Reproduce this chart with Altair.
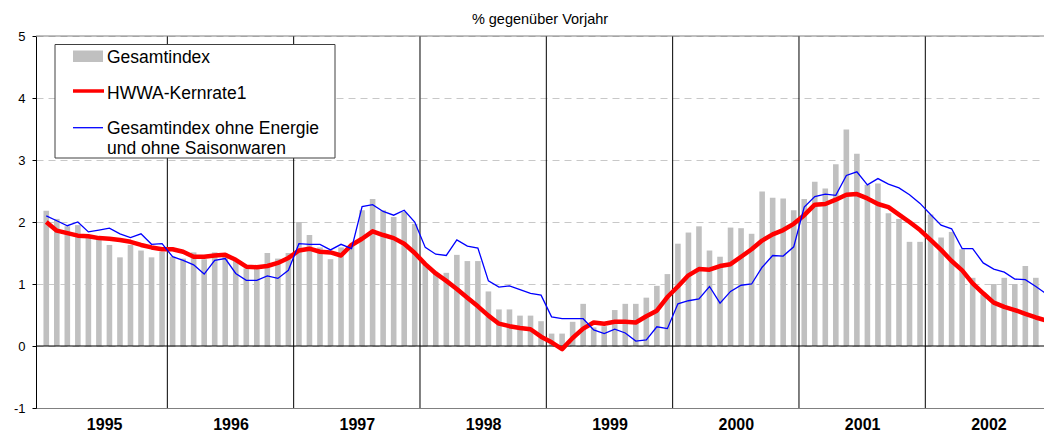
import altair as alt
import pandas as pd

# Monthly data Jan 1995 .. Dec 2002 (year-on-year change in %)
gesamtindex = [
    2.18, 2.05, 1.93, 1.95, 1.78, 1.73, 1.63, 1.43, 1.63, 1.54, 1.43, 1.52,  # 1995
    1.44, 1.41, 1.51, 1.40, 1.51, 1.49, 1.40, 1.25, 1.27, 1.50, 1.41, 1.50,  # 1996
    2.00, 1.79, 1.59, 1.40, 1.59, 1.63, 2.19, 2.37, 2.19, 2.08, 2.16, 1.97,  # 1997
    1.31, 1.17, 1.18, 1.47, 1.37, 1.37, 0.88, 0.59, 0.59, 0.49, 0.49, 0.40,  # 1998
    0.20, 0.20, 0.39, 0.68, 0.30, 0.32, 0.58, 0.68, 0.68, 0.78, 0.97, 1.16,  # 1999
    1.65, 1.83, 1.93, 1.54, 1.44, 1.91, 1.90, 1.81, 2.49, 2.39, 2.38, 2.19,  # 2000
    2.37, 2.65, 2.54, 2.93, 3.49, 3.10, 2.60, 2.62, 2.14, 2.05, 1.68, 1.68,  # 2001
    2.12, 1.75, 1.84, 1.56, 1.10, 0.83, 1.00, 1.10, 1.00, 1.29, 1.10,        # 2002
]
kernrate = [
    2.00, 1.86, 1.82, 1.78, 1.77, 1.74, 1.73, 1.71, 1.68, 1.63, 1.59, 1.56,
    1.56, 1.52, 1.44, 1.44, 1.46, 1.47, 1.39, 1.28, 1.27, 1.29, 1.34, 1.42,
    1.54, 1.57, 1.52, 1.51, 1.46, 1.63, 1.73, 1.85, 1.79, 1.74, 1.65, 1.50,
    1.32, 1.17, 1.05, 0.92, 0.78, 0.64, 0.49, 0.36, 0.32, 0.29, 0.27, 0.15,
    0.06, -0.05, 0.13, 0.28, 0.38, 0.36, 0.39, 0.39, 0.38, 0.48, 0.57, 0.79,
    0.96, 1.14, 1.24, 1.23, 1.29, 1.32, 1.44, 1.56, 1.70, 1.80, 1.87, 1.97,
    2.11, 2.28, 2.29, 2.36, 2.44, 2.45, 2.38, 2.29, 2.24, 2.12, 2.00, 1.87,
    1.71, 1.55, 1.37, 1.22, 1.01, 0.85, 0.70, 0.63, 0.58, 0.52, 0.46, 0.41,
]
ohne_energie = [
    2.10, 2.02, 1.94, 2.00, 1.84, 1.87, 1.90, 1.81, 1.75, 1.81, 1.64, 1.65,
    1.44, 1.38, 1.31, 1.16, 1.38, 1.41, 1.17, 1.06, 1.06, 1.13, 1.09, 1.22,
    1.65, 1.64, 1.64, 1.55, 1.64, 1.57, 2.25, 2.28, 2.17, 2.11, 2.19, 2.00,
    1.59, 1.48, 1.46, 1.71, 1.61, 1.58, 1.05, 0.95, 0.97, 0.91, 0.85, 0.82,
    0.47, 0.44, 0.44, 0.44, 0.26, 0.20, 0.27, 0.21, 0.08, 0.10, 0.31, 0.28,
    0.68, 0.73, 0.76, 0.96, 0.69, 0.88, 0.98, 1.00, 1.27, 1.46, 1.45, 1.60,
    2.24, 2.41, 2.45, 2.43, 2.75, 2.81, 2.60, 2.70, 2.61, 2.55, 2.44, 2.30,
    2.12, 1.95, 1.89, 1.57, 1.57, 1.34, 1.24, 1.19, 1.08, 1.07, 0.96, 0.84,
]
years = [1995, 1996, 1997, 1998, 1999, 2000, 2001, 2002]
y_ticks = [-1, 0, 1, 2, 3, 4, 5]

title_text = "% gegenüber Vorjahr"
legend_labels = ["Gesamtindex", "HWWA-Kernrate1", "Gesamtindex ohne Energie", "und ohne Saisonwaren"]

FONT = "Liberation Sans"
W, H = 1008, 372
X_END = 94.8  # visible part of the monthly axis

bars_df = pd.DataFrame({"t": [i + 0.5 for i in range(len(gesamtindex))], "v": gesamtindex})
kern_df = pd.DataFrame({"t": [i + 0.5 for i in range(len(kernrate))], "v": kernrate})
blue_df = pd.DataFrame({"t": [i + 0.5 for i in range(len(ohne_energie))], "v": ohne_energie})
bound_df = pd.DataFrame({"t": [12 * k for k in range(1, len(years))]})

xs = alt.Scale(domain=[0, X_END], nice=False, zero=False)
ys = alt.Scale(domain=[-1, 5], nice=False, zero=False)

x_axis = alt.Axis(
    values=[12 * k + 6 for k in range(len(years))],
    labelExpr="'' + (1995 + floor(datum.value / 12))",
    title=None, grid=False, ticks=False, domain=True, domainColor="#808080",
    labelFont=FONT, labelFontSize=16, labelFontWeight="bold", labelColor="black",
    labelPadding=8,
)
y_axis = alt.Axis(
    values=y_ticks, title=None, grid=True, gridColor="#c8c8c8", gridDash=[7, 5],
    domainColor="black", tickColor="black", tickSize=4, labelPadding=7,
    labelFont=FONT, labelFontSize=13, labelColor="black",
    labelExpr="'' + datum.value",
)

bars = alt.Chart(bars_df).mark_bar(size=5.6, color="#c0c0c0", clip=True).encode(
    x=alt.X("t:Q", scale=xs, axis=x_axis),
    y=alt.Y("v:Q", scale=ys, axis=y_axis),
)
year_rules = alt.Chart(bound_df).mark_rule(color="black", strokeWidth=1).encode(
    x=alt.X("t:Q", scale=xs)
)
top_rule = alt.Chart(pd.DataFrame({"v": [5]})).mark_rule(color="#808080", strokeWidth=1).encode(
    y=alt.Y("v:Q", scale=ys)
)
zero_rule = alt.Chart(pd.DataFrame({"v": [0]})).mark_rule(color="black", strokeWidth=1).encode(
    y=alt.Y("v:Q", scale=ys)
)
red = alt.Chart(kern_df).mark_line(color="#ff0000", strokeWidth=4.5, clip=True,
                                   strokeJoin="round").encode(
    x=alt.X("t:Q", scale=xs), y=alt.Y("v:Q", scale=ys)
)
blue = alt.Chart(blue_df).mark_line(color="#0000ff", strokeWidth=1.3, clip=True).encode(
    x=alt.X("t:Q", scale=xs), y=alt.Y("v:Q", scale=ys)
)

# legend (pixel layout inside the plot area)
one = pd.DataFrame({"a": [0]})
leg_box = alt.Chart(one).mark_rect(fill="white", stroke="#404040", strokeWidth=1).encode(
    x=alt.value(19), x2=alt.value(299), y=alt.value(8.5), y2=alt.value(122)
)
leg_sw = alt.Chart(one).mark_rect(color="#c0c0c0").encode(
    x=alt.value(37), x2=alt.value(67), y=alt.value(14.5), y2=alt.value(26)
)
leg_red = alt.Chart(one).mark_rule(color="#ff0000", strokeWidth=3.5).encode(
    x=alt.value(37), x2=alt.value(68), y=alt.value(55)
)
leg_blue = alt.Chart(one).mark_rule(color="#0000ff", strokeWidth=1.3).encode(
    x=alt.value(37), x2=alt.value(67), y=alt.value(91.7)
)
leg_text_df = pd.DataFrame({"label": legend_labels, "py": [27.3, 62.7, 98, 118]})
leg_text = alt.Chart(leg_text_df).mark_text(
    align="left", baseline="alphabetic", font=FONT, fontSize=17.5, color="black"
).encode(
    x=alt.value(71), y=alt.Y("py:Q", scale=None), text="label:N"
)

chart = alt.layer(
    bars, year_rules, zero_rule, top_rule, red, blue,
    leg_box, leg_sw, leg_red, leg_blue, leg_text,
).properties(
    width=W, height=H,
    title=alt.TitleParams(title_text, font=FONT, fontSize=14.5, fontWeight="normal",
                          color="black", anchor="middle", offset=3),
    autosize=alt.AutoSizeParams(type="none"),
    padding={"left": 28, "top": 28, "right": 0, "bottom": 30},
).configure_view(stroke=None)

chart.save("out.html", embed_options={"renderer": "svg", "actions": False})
